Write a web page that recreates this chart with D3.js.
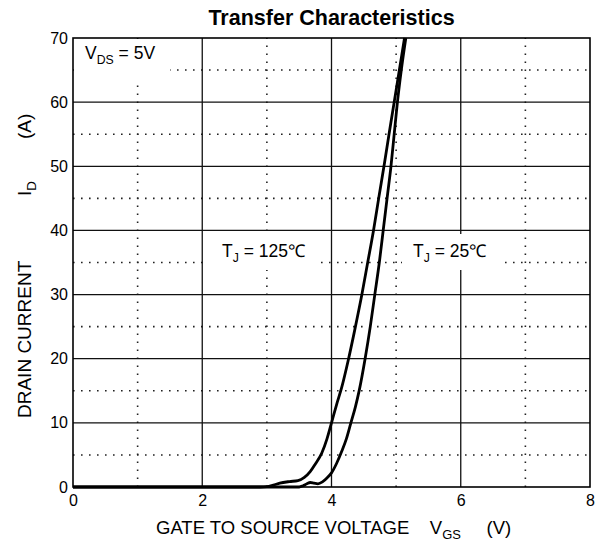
<!DOCTYPE html>
<html>
<head>
<meta charset="utf-8">
<script src="https://cdn.jsdelivr.net/npm/d3@7"></script>
<style>
  body { margin: 0; background: #fff; }
  svg { display: block; font-family: "Liberation Sans", Arial, sans-serif; }
</style>
</head>
<body>
<svg id="chart" width="603" height="547"></svg>
<script>
// values: [VGS (V), ID (A)]
const vgs125 = [0, 2.9, 3.0, 3.1, 3.2, 3.35, 3.48, 3.58, 3.67, 3.75, 3.85, 3.93, 4.0, 4.08, 4.16, 4.26, 4.36, 4.47, 4.56, 4.65, 4.73, 4.82, 4.89, 4.97, 5.05, 5.13];
const id125 = [0, 0, 0.05, 0.3, 0.6, 0.85, 1.0, 1.5, 2.4, 3.6, 5.3, 7.5, 10, 12.9, 15.6, 19.8, 24.5, 30, 35, 40, 45, 50.5, 55, 60, 65, 70];
const vgs25 = [0, 3.5, 3.56, 3.62, 3.67, 3.73, 3.79, 3.86, 3.93, 4.0, 4.08, 4.16, 4.23, 4.3, 4.37, 4.43, 4.52, 4.6, 4.67, 4.74, 4.8, 4.86, 4.92, 4.97, 5.02, 5.08, 5.15];
const id25 = [0, 0, 0.2, 0.5, 0.7, 0.6, 0.5, 0.8, 1.4, 2.2, 3.7, 5.6, 7.5, 10, 12.5, 15.1, 20, 25, 30, 35, 40, 45, 50, 55, 60, 65, 70];

const xTicks = [0, 2, 4, 6, 8];
const xMinor = [1, 3, 5, 7];
const yTicks = [0, 10, 20, 30, 40, 50, 60, 70];
const yMinor = [5, 15, 25, 35, 45, 55, 65];

const svg = d3.select('#chart');
const plotLeft = 73;
const plotRight = 590;
const plotTop = 38;
const plotBottom = 487;

const x = d3.scaleLinear().domain([0, 8]).range([plotLeft, plotRight]);
const y = d3.scaleLinear().domain([0, 70]).range([plotBottom, plotTop]);

// dotted minor grid
const grid = svg.append('g');
grid.selectAll('.hmin').data(yMinor).enter().append('line')
  .attr('x1', plotLeft).attr('x2', plotRight)
  .attr('y1', d => y(d)).attr('y2', d => y(d))
  .attr('stroke', '#222').attr('stroke-width', 1.6)
  .attr('stroke-dasharray', '1.6,6.4');
grid.selectAll('.vmin').data(xMinor).enter().append('line')
  .attr('x1', d => x(d)).attr('x2', d => x(d))
  .attr('y1', plotBottom).attr('y2', plotTop)
  .attr('stroke', '#222').attr('stroke-width', 1.6)
  .attr('stroke-dasharray', '1.6,6.4');

// solid major grid
grid.selectAll('.hmaj').data(yTicks.slice(1, -1)).enter().append('line')
  .attr('x1', plotLeft).attr('x2', plotRight)
  .attr('y1', d => y(d)).attr('y2', d => y(d))
  .attr('stroke', '#111').attr('stroke-width', 1.3);
grid.selectAll('.vmaj').data(xTicks.slice(1, -1)).enter().append('line')
  .attr('x1', d => x(d)).attr('x2', d => x(d))
  .attr('y1', plotBottom).attr('y2', plotTop)
  .attr('stroke', '#111').attr('stroke-width', 1.3);

// labels sit on white boxes that hide the grid
function labelBox(x0, y0, w, h) {
  svg.append('rect').attr('x', x0).attr('y', y0).attr('width', w).attr('height', h)
    .attr('fill', '#fff');
}
labelBox(74, 39, 96, 40);
labelBox(205, 234, 111, 36);
labelBox(402, 234, 101, 36);

function sub(t, main, s) {
  t.append('tspan').text(main);
  t.append('tspan').attr('font-size', '0.7em').attr('dy', 5).text(s);
}

const vds = svg.append('text').attr('x', 85).attr('y', 59).attr('font-size', 17.5);
sub(vds, 'V', 'DS');
vds.append('tspan').attr('dy', -5).text(' = 5V');

const t125 = svg.append('text').attr('x', 222).attr('y', 257).attr('font-size', 17.5);
sub(t125, 'T', 'J');
t125.append('tspan').attr('dy', -5).text(' = 125\u2103');

const t25 = svg.append('text').attr('x', 413).attr('y', 257).attr('font-size', 17.5);
sub(t25, 'T', 'J');
t25.append('tspan').attr('dy', -5).text(' = 25\u2103');

// frame
svg.append('rect')
  .attr('x', plotLeft).attr('y', plotTop)
  .attr('width', plotRight - plotLeft).attr('height', plotBottom - plotTop)
  .attr('fill', 'none').attr('stroke', '#000').attr('stroke-width', 1.6);

// curves
const line = d3.line()
  .x(d => x(d[0]))
  .y(d => y(d[1]))
  .curve(d3.curveMonotoneX);

const curves = [d3.zip(vgs125, id125), d3.zip(vgs25, id25)];
svg.append('g').selectAll('path').data(curves).enter().append('path')
  .attr('d', line)
  .attr('fill', 'none')
  .attr('stroke', '#000')
  .attr('stroke-width', 2.8)
  .attr('stroke-linejoin', 'round');

// axes
const xAxis = svg.append('g')
  .attr('transform', `translate(0,${plotBottom})`)
  .call(d3.axisBottom(x).tickValues(xTicks).tickSize(0).tickPadding(8).tickFormat(d3.format('d')));
const yAxis = svg.append('g')
  .attr('transform', `translate(${plotLeft},0)`)
  .call(d3.axisLeft(y).tickValues(yTicks).tickSize(0).tickPadding(5).tickFormat(d3.format('d')));
[xAxis, yAxis].forEach(a => {
  a.select('.domain').remove();
  a.selectAll('text').attr('font-size', 16).attr('fill', '#000')
    .attr('font-family', '"Liberation Sans", Arial, sans-serif');
});

// titles
svg.append('text')
  .attr('x', (plotLeft + plotRight) / 2).attr('y', 25)
  .attr('text-anchor', 'middle')
  .attr('font-size', 21.5).attr('font-weight', 'bold')
  .text('Transfer Characteristics');

const xt = svg.append('text')
  .attr('x', 156).attr('y', 534)
  .attr('font-size', 18.5)
  .attr('xml:space', 'preserve');
xt.append('tspan').text('GATE TO SOURCE VOLTAGE    V');
xt.append('tspan').attr('font-size', '0.7em').attr('dy', 5).text('GS');
xt.append('tspan').attr('dy', -5).text('     (V)');

// y title pieces are spread out along the axis like the original
const yt = svg.append('text')
  .attr('transform', 'translate(31,0) rotate(-90)')
  .attr('font-size', 19);
yt.append('tspan').attr('x', -418).text('DRAIN CURRENT');
yt.append('tspan').attr('x', -196).text('I');
yt.append('tspan').attr('font-size', '0.7em').attr('dy', 5).text('D');
yt.append('tspan').attr('x', -139).attr('dy', -5).text('(A)');
</script>
</body>
</html>
